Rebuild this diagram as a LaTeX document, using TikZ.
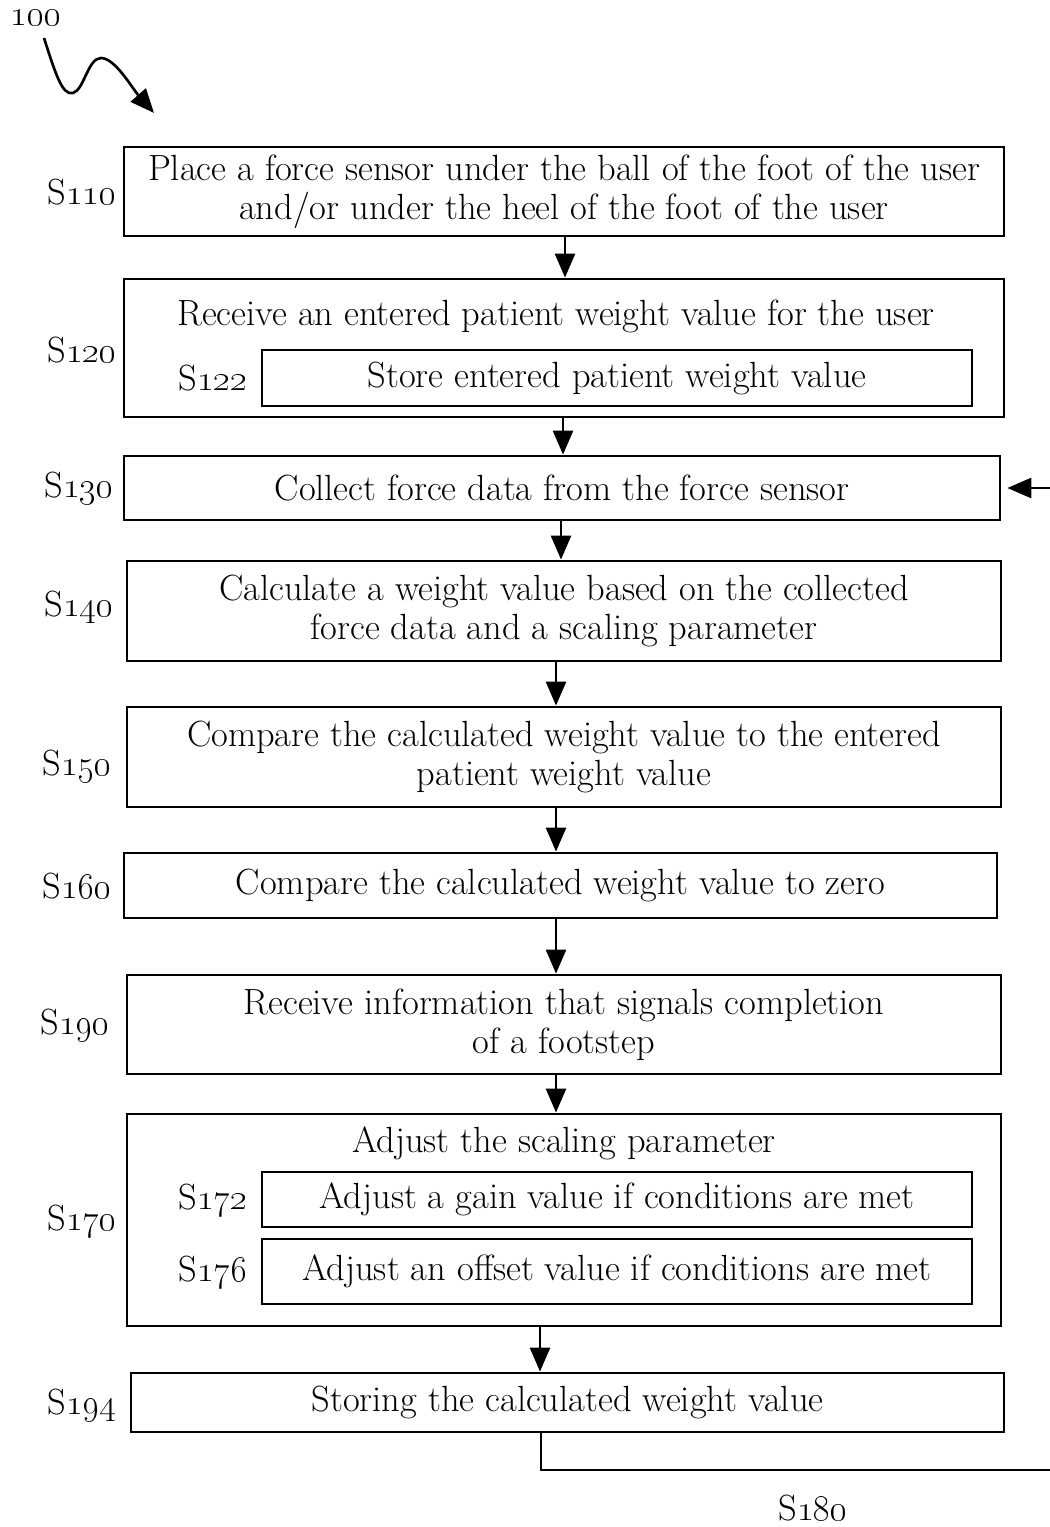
\documentclass[tikz,border=0pt]{standalone}
\usepackage{tikz}
\usetikzlibrary{positioning,arrows.meta}

\newcommand{\stp}[1]{S\oldstylenums{#1}}

\begin{document}
\begin{tikzpicture}[x=0.02cm, y=-0.02cm,
    every node/.style={font=\fontsize{20.74}{22}\selectfont},
    stepbox/.style={draw, line width=1.6pt, inner sep=0pt, align=center},
    flow/.style={line width=1.5pt, -{Triangle[length=0.48cm, width=0.4cm]}}]
\useasboundingbox (0,0) rectangle (1050,1527);

% Figure number
\node (n100) at (36,18) {\oldstylenums{100}};
\coordinate (start) at (154,113);
\draw[flow] (44,38) .. controls (55,72) and (62,96) .. (73,93)
    .. controls (84,90) and (88,58) .. (101,58)
    .. controls (115,58) and (132,88) .. (start);

% Steps
\node[stepbox, minimum width=17.6cm, minimum height=1.78cm] (s110) at (564,191.5)
    {Place a force sensor under the ball of the foot of the user\\and/or under the heel of the foot of the user};
\node[stepbox, minimum width=17.6cm, minimum height=2.76cm] (s120) at (564,348) {};
\node (t120) at (556,316) {Receive an entered patient weight value for the user};
\node[stepbox, minimum width=14.2cm, minimum height=1.12cm] (s122) at (617,378) {Store entered patient weight value};
\node[stepbox, minimum width=17.52cm, minimum height=1.28cm] (s130) at (562,488) {Collect force data from the force sensor};
\node[stepbox, minimum width=17.48cm, minimum height=2cm] (s140) at (564,611)
    {Calculate a weight value based on the collected\\force data and a scaling parameter};
\node[stepbox, minimum width=17.48cm, minimum height=2cm] (s150) at (564,757)
    {Compare the calculated weight value to the entered\\patient weight value};
\node[stepbox, minimum width=17.46cm, minimum height=1.3cm] (s160) at (560.5,885.5) {Compare the calculated weight value to zero};
\node[stepbox, minimum width=17.48cm, minimum height=1.98cm] (s190) at (564,1024.5)
    {Receive information that signals completion\\of a footstep};
\node[stepbox, minimum width=17.48cm, minimum height=4.24cm] (s170) at (564,1220) {};
\node (t170) at (564,1143) {Adjust the scaling parameter};
\node[stepbox, minimum width=14.2cm, minimum height=1.1cm] (s172) at (617,1199.5) {Adjust a gain value if conditions are met};
\node[stepbox, minimum width=14.2cm, minimum height=1.3cm] (s176) at (617,1271.5) {Adjust an offset value if conditions are met};
\node[stepbox, minimum width=17.46cm, minimum height=1.18cm] (s194) at (567.5,1402.5) {Storing the calculated weight value};

% Step labels
\node (l110) at (82,192) {\stp{110}};
\node (l120) at (82,350) {\stp{120}};
\node (l122) at (213,378) {\stp{122}};
\node (l130) at (79,488) {\stp{130}};
\node (l140) at (79,607) {\stp{140}};
\node (l150) at (77,766) {\stp{150}};
\node (l160) at (77,886) {\stp{160}};
\node (l190) at (75,1025) {\stp{190}};
\node (l170) at (82,1221) {\stp{170}};
\node (l172) at (213,1200) {\stp{172}};
\node (l176) at (213,1272) {\stp{176}};
\node (l194) at (82,1405) {\stp{194}};
\node (l180) at (813,1508) {\stp{180}};

% Flow arrows
\draw[flow] (s110.south -| 565,0) -- (s120.north -| 565,0);
\draw[flow] (s120.south -| 563,0) -- (s130.north -| 563,0);
\draw[flow] (s130.south -| 561,0) -- (s140.north -| 561,0);
\draw[flow] (s140.south -| 556,0) -- (s150.north -| 556,0);
\draw[flow] (s150.south -| 556,0) -- (s160.north -| 556,0);
\draw[flow] (s160.south -| 556,0) -- (s190.north -| 556,0);
\draw[flow] (s190.south -| 556,0) -- (s170.north -| 556,0);
\draw[flow] (s170.south -| 540,0) -- (s194.north -| 540,0);

% Loop back (S180)
\coordinate (back) at (1050,488);
\coordinate (loop) at (1050,1470);
\draw[flow, shorten >=0.12cm] (back) -- (s130.east);
\draw[line width=1.5pt] (s194.south -| 541,0) -- (541,1470) -- (loop);
\end{tikzpicture}
\end{document}
